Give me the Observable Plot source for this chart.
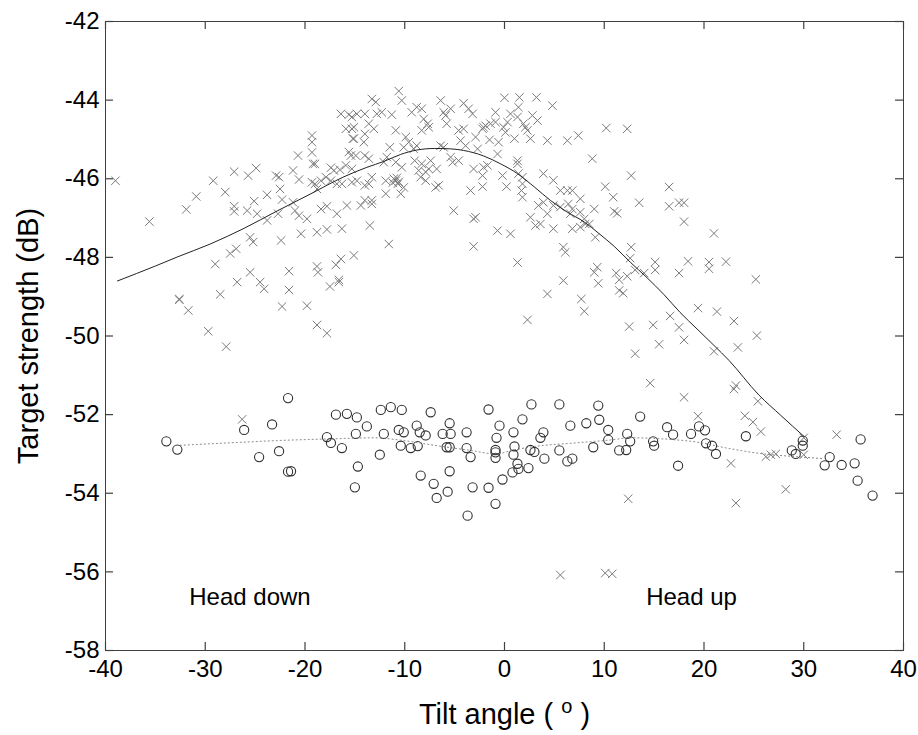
<!DOCTYPE html>
<html>
<head>
<meta charset="utf-8">
<script src="https://cdn.jsdelivr.net/npm/d3@7"></script>
<script src="https://cdn.jsdelivr.net/npm/@observablehq/plot@0.6"></script>
<style>
  html, body { margin: 0; padding: 0; background: #fff; }
  #chart { width: 918px; height: 735px; }
</style>
</head>
<body>
<div id="chart"></div>
<script>
// ---------- data ----------
const xTicks = [-40, -30, -20, -10, 0, 10, 20, 30, 40];
const yTicks = [-58, -56, -54, -52, -50, -48, -46, -44, -42];
const xLabel = "Tilt angle ( o )";
const yLabel = "Target strength (dB)";

// "x" markers: [tilt angle, target strength]
const crossPoints = [
  [-39.0,-46.05],[-35.6,-47.09],[-31.9,-46.78],[-30.9,-46.45],[-29.2,-46.05],[-28.0,-46.34],[-27.1,-45.82],
  [-27.1,-46.70],[-27.1,-46.83],[-25.7,-45.92],[-24.9,-45.73],[-25.8,-46.81],[-25.1,-46.57],[-24.8,-46.89],
  [-23.8,-46.41],[-23.8,-47.06],[-22.9,-45.92],[-22.6,-45.96],[-22.5,-46.26],[-22.7,-46.89],[-22.3,-46.53],
  [-21.2,-45.79],[-20.6,-46.02],[-21.2,-46.60],[-21.0,-46.81],[-20.6,-46.94],[-19.8,-47.02],[-20.7,-45.41],
  [-19.3,-44.90],[-19.3,-45.07],[-19.3,-45.33],[-19.2,-45.62],[-19.0,-45.62],[-19.3,-46.09],[-19.0,-46.13],
  [-18.8,-46.26],[-18.4,-46.05],[-17.9,-45.96],[-17.4,-45.72],[-17.1,-45.79],[-16.5,-45.77],[-17.4,-46.05],
  [-16.8,-46.13],[-16.3,-46.13],[-18.4,-46.77],[-17.8,-46.70],[-16.8,-46.89],[-15.8,-46.68],[-20.4,-47.40],
  [-18.8,-47.36],[-17.8,-47.29],[-16.3,-47.27],[-22.4,-47.57],[-25.5,-47.49],[-25.2,-47.61],[-27.5,-47.90],
  [-26.9,-47.78],[-29.0,-48.17],[-25.5,-48.38],[-26.8,-48.63],[-24.5,-48.63],[-24.1,-48.80],[-21.6,-48.35],
  [-21.6,-48.83],[-22.3,-49.25],[-19.8,-49.23],[-18.8,-48.23],[-18.7,-48.38],[-16.9,-48.19],[-16.4,-48.04],
  [-17.5,-48.74],[-16.6,-48.57],[-16.6,-48.63],[-18.8,-49.72],[-17.8,-49.93],[-32.6,-49.06],[-32.6,-49.08],
  [-31.7,-49.35],[-28.5,-48.94],[-29.7,-49.88],[-27.9,-50.27],[-16.4,-44.35],[-15.6,-44.37],[-15.9,-44.73],
  [-15.3,-44.73],[-15.2,-44.98],[-15.6,-45.32],[-15.9,-45.66],[-15.3,-45.75],[-26.3,-52.12],
  [-10.6,-43.77],[-10.3,-44.01],[-13.3,-43.97],[-12.9,-44.05],[-6.4,-44.01],[-4.1,-44.08],[-3.6,-44.22],
  [-3.2,-44.35],[0.0,-43.94],[1.5,-43.93],[3.2,-43.93],[4.8,-44.14],[1.4,-44.18],[0.6,-44.35],[1.3,-44.43],
  [0.3,-44.56],[2.8,-44.39],[3.3,-44.52],[-14.8,-44.35],[-14.0,-44.35],[-15.3,-44.43],[-12.8,-44.35],
  [-12.3,-44.31],[-11.3,-44.37],[-9.3,-44.31],[-8.8,-44.18],[-8.3,-44.22],[-6.1,-44.31],[-5.9,-44.39],
  [-5.4,-44.22],[-5.8,-44.60],[-8.1,-44.48],[-7.7,-44.60],[-8.3,-44.77],[-7.6,-44.69],[-0.9,-44.31],
  [-1.4,-44.60],[-2.1,-44.69],[-0.9,-44.56],[-0.1,-44.69],[0.1,-44.82],[1.9,-44.60],[2.3,-44.77],
  [2.6,-44.98],[2.1,-44.69],[4.3,-45.03],[6.3,-45.03],[7.4,-44.90],[8.8,-45.49],[-15.1,-44.69],[-15.1,-44.98],
  [-14.0,-44.86],[-13.1,-44.73],[-13.6,-44.60],[-14.1,-45.07],[-10.9,-44.77],[-9.9,-44.94],[-9.6,-45.07],
  [-11.5,-45.20],[-10.1,-45.20],[-9.1,-45.24],[-8.8,-45.16],[-4.6,-44.77],[-4.1,-44.73],[-4.4,-45.03],
  [-3.9,-45.16],[-2.9,-44.94],[-2.2,-44.73],[-1.9,-44.65],[-1.5,-45.01],[-0.6,-45.07],[1.0,-44.98],
  [-6.4,-45.16],[-6.1,-45.20],[-2.7,-45.24],[-0.7,-45.37],[-15.4,-45.41],[-14.9,-45.41],[-14.0,-45.41],
  [-13.6,-45.49],[-12.1,-45.58],[-11.8,-45.45],[-10.9,-45.58],[-10.3,-45.71],[-9.0,-45.54],[-8.3,-45.62],
  [-7.4,-45.54],[-6.8,-45.75],[-8.6,-45.79],[-7.9,-45.83],[-7.6,-45.75],[-5.4,-45.45],[-5.2,-45.58],
  [-4.6,-45.54],[-3.1,-45.75],[-2.1,-45.71],[-1.7,-45.66],[-2.2,-45.92],[1.3,-45.54],[1.3,-45.62],
  [-0.2,-45.92],[1.4,-45.87],[1.8,-45.96],[1.8,-46.13],[1.7,-46.30],[1.8,-46.47],[0.2,-46.20],[3.9,-45.87],
  [4.9,-46.04],[5.6,-46.30],[6.3,-46.30],[6.8,-46.30],[7.6,-46.51],[3.4,-46.68],[3.9,-46.60],[4.9,-46.68],
  [5.6,-46.72],[6.4,-46.64],[6.8,-46.77],[6.6,-46.89],[7.6,-46.85],[8.0,-47.02],[8.5,-47.15],[9.0,-46.77],
  [2.6,-46.98],[3.1,-47.19],[3.6,-47.15],[4.3,-46.89],[4.9,-47.27],[6.8,-47.27],[7.6,-47.23],[8.1,-47.15],
  [9.1,-47.49],[-14.4,-46.68],[-14.0,-46.55],[-13.3,-46.55],[-13.3,-46.64],[-15.3,-46.09],[-14.8,-46.05],
  [-14.0,-46.17],[-13.3,-45.96],[-13.6,-46.13],[-11.9,-46.05],[-11.9,-46.38],[-11.1,-46.00],[-10.9,-46.05],
  [-10.7,-46.13],[-10.1,-46.22],[-10.4,-46.38],[-11.2,-46.10],[-10.8,-45.98],[-10.6,-46.08],[-8.4,-45.96],
  [-7.9,-46.05],[-6.9,-46.22],[-6.6,-46.17],[-3.4,-46.30],[-2.2,-46.20],[-5.1,-46.81],[-3.1,-47.02],
  [-2.9,-46.98],[-3.1,-47.72],[-0.7,-47.32],[0.6,-47.40],[-13.5,-47.19],[-11.6,-47.66],[-15.1,-47.95],
  [1.3,-48.13],[5.9,-47.74],[6.1,-47.87],[5.9,-48.59],[4.3,-48.93],[7.7,-49.06],[8.0,-49.37],[9.0,-48.38],
  [9.3,-48.25],[9.4,-48.66],[2.3,-49.59],
  [10.2,-44.71],[12.3,-44.73],[12.7,-45.92],[10.1,-46.20],[10.9,-46.47],[11.0,-46.83],[11.3,-46.88],
  [13.5,-46.61],[16.5,-46.21],[16.5,-46.70],[17.5,-46.61],[18.0,-46.61],[18.0,-47.09],[21.0,-47.39],
  [12.7,-47.74],[12.6,-48.02],[13.1,-48.32],[14.0,-48.40],[15.1,-48.12],[15.1,-48.32],[11.2,-48.40],
  [11.5,-48.57],[12.3,-48.48],[11.5,-48.84],[11.9,-48.91],[17.5,-48.40],[18.4,-48.10],[20.5,-48.12],
  [20.5,-48.29],[22.2,-48.11],[25.2,-48.56],[19.4,-49.29],[21.3,-49.38],[23.0,-49.62],[16.6,-49.49],
  [14.9,-49.72],[12.5,-49.76],[17.5,-49.78],[18.0,-50.10],[15.5,-50.21],[13.1,-50.45],[21.0,-50.39],
  [23.4,-50.29],[25.3,-49.99],
  [14.6,-51.20],[18.0,-51.56],[23.2,-51.26],[23.0,-51.35],[25.4,-51.66],[19.4,-52.04],[24.1,-52.03],
  [24.9,-52.19],[25.7,-52.43],[30.0,-52.59],[33.3,-52.51],[22.7,-53.24],[26.2,-53.07],[26.7,-53.02],
  [27.2,-53.00],[30.0,-53.02],[28.2,-53.90],[23.2,-54.25],[12.4,-54.14],[5.6,-56.08],[10.1,-56.03],[10.8,-56.05]
];

// "o" markers: [tilt angle, target strength]
const circlePoints = [
  [-33.9,-52.68],[-32.8,-52.89],[-26.1,-52.39],[-23.3,-52.25],[-21.7,-51.58],[-24.6,-53.08],[-22.6,-52.93],
  [-21.7,-53.45],[-21.4,-53.44],[-17.8,-52.57],[-17.4,-52.72],[-16.3,-52.85],[-16.9,-52.00],[-15.8,-51.98],
  [-14.8,-52.07],[-13.8,-52.30],[-14.9,-52.49],[-14.7,-53.32],[-15.0,-53.85],
  [-12.4,-51.88],[-11.4,-51.81],[-10.3,-51.88],[-12.1,-52.49],[-12.5,-53.02],[-10.6,-52.39],[-10.1,-52.45],
  [-10.4,-52.79],[-9.4,-52.85],[-8.7,-52.80],[-8.8,-52.28],[-8.5,-52.45],[-7.9,-52.53],[-7.4,-51.94],
  [-6.2,-52.49],[-5.5,-52.22],[-5.4,-52.49],[-5.8,-52.83],[-5.5,-52.83],[-3.8,-52.45],[-3.8,-52.85],
  [-3.4,-53.08],[-8.4,-53.55],[-7.1,-53.76],[-6.8,-54.12],[-5.7,-53.96],[-5.5,-53.44],[-3.2,-53.85],
  [-1.6,-53.86],[-1.6,-51.87],[-0.5,-52.28],[-0.8,-52.59],[-0.9,-52.90],[-0.9,-52.96],[-0.9,-53.10],
  [0.9,-52.45],[1.0,-52.81],[0.9,-53.02],[1.3,-53.25],[1.4,-53.38],[0.8,-53.47],[-0.2,-53.65],[2.4,-53.36],
  [1.8,-52.12],[2.7,-51.74],[2.6,-52.90],[3.0,-52.95],[3.6,-52.59],[3.9,-52.45],[4.0,-53.12],[5.5,-51.74],
  [6.6,-52.28],[5.5,-52.91],[6.3,-53.19],[6.8,-53.12],[8.2,-52.22],[8.9,-52.83],[9.4,-51.77],[9.5,-52.13],
  [10.4,-52.39],[10.4,-52.64],[11.5,-52.91],[12.2,-52.90],[12.3,-52.49],[12.6,-52.68],[13.6,-52.05],
  [-0.9,-54.27],[-3.7,-54.57],
  [16.3,-52.32],[16.9,-52.51],[18.7,-52.49],[19.5,-52.30],[20.1,-52.40],[20.2,-52.73],[20.8,-52.79],
  [21.2,-53.00],[14.9,-52.68],[15.0,-52.79],[17.4,-53.30],[24.2,-52.55],[28.8,-52.91],[29.2,-53.00],
  [29.9,-52.79],[29.9,-52.66],[32.6,-53.08],[32.1,-53.29],[33.8,-53.28],[35.1,-53.24],[35.7,-52.63],
  [35.4,-53.68],[36.9,-54.06]
];

// solid fit through the "x" data
const fitCross = [
  [-38.8,-48.60],[-35.0,-48.22],[-32.8,-47.99],[-29.5,-47.66],[-26.1,-47.26],[-22.8,-46.82],[-19.4,-46.38],
  [-16.1,-45.95],[-13.8,-45.71],[-12.1,-45.56],[-10.4,-45.38],[-8.8,-45.27],[-7.0,-45.23],[-5.4,-45.24],
  [-4.1,-45.28],[-2.1,-45.42],[-0.4,-45.62],[1.3,-45.87],[3.0,-46.21],[4.6,-46.55],[6.3,-46.85],[8.0,-47.10],
  [9.5,-47.40],[11.0,-47.72],[12.6,-48.12],[14.3,-48.52],[16.0,-48.95],[17.6,-49.40],[19.3,-49.82],
  [21.0,-50.24],[22.5,-50.62],[25.5,-51.50],[27.7,-52.02],[30.0,-52.55]
];

// dotted fit through the "o" data
const fitCircle = [
  [-32.5,-52.78],[-26.1,-52.70],[-22.8,-52.66],[-17.8,-52.62],[-13.1,-52.59],[-10.1,-52.66],[-6.8,-52.79],
  [-3.4,-52.91],[-0.9,-53.00],[0.9,-52.90],[3.3,-52.80],[6.6,-52.73],[10.0,-52.66],[13.0,-52.59],
  [16.0,-52.62],[19.3,-52.70],[22.7,-52.87],[26.0,-53.00],[29.3,-53.07],[32.0,-53.12]
];

// annotations
const noteText = ["Head down", "Head up"];
const noteX = [-31.6, 14.2];
const noteY = [-56.65, -56.65];
const notes = noteText.map((t, i) => ({t, x: noteX[i], y: noteY[i]}));

// ---------- chart ----------
const W = 918, H = 735, mL = 105, mR = 15, mT = 21, mB = 85;
const frameW = W - mL - mR, frameH = H - mT - mB, tickLen = 8;
const font = "'Liberation Sans', Arial, Helvetica, sans-serif";
const axisColor = "#404040";
const fmt = d => String(d);

const chart = Plot.plot({
  width: W,
  height: H,
  marginLeft: mL,
  marginRight: mR,
  marginTop: mT,
  marginBottom: mB,
  style: {fontFamily: font, fontSize: "24px", background: "#fff", color: "#000"},
  x: {domain: [-40, 40]},
  y: {domain: [-58, -42]},
  marks: [
    Plot.frame({stroke: axisColor, strokeWidth: 1}),
    // inward ticks on all four sides
    Plot.tickX(xTicks, {x: d => d, stroke: axisColor, strokeWidth: 1.2, insetTop: frameH - tickLen}),
    Plot.tickX(xTicks, {x: d => d, stroke: axisColor, strokeWidth: 1.2, insetBottom: frameH - tickLen}),
    Plot.tickY(yTicks, {y: d => d, stroke: axisColor, strokeWidth: 1.2, insetRight: frameW - tickLen}),
    Plot.tickY(yTicks, {y: d => d, stroke: axisColor, strokeWidth: 1.2, insetLeft: frameW - tickLen}),
    // tick labels
    Plot.axisX(xTicks, {anchor: "bottom", tickSize: 0, tickPadding: 9, tickFormat: fmt, fontSize: 24, fill: "#000", label: null}),
    Plot.axisY(yTicks, {anchor: "left", tickSize: 0, tickPadding: 6, tickFormat: fmt, fontSize: 24, fill: "#000", label: null}),
    // data
    Plot.dot(crossPoints, {x: d => d[0], y: d => d[1], symbol: "times", r: 3.9, stroke: "#7a7a7a", strokeWidth: 1}),
    Plot.dot(circlePoints, {x: d => d[0], y: d => d[1], symbol: "circle", r: 4.6, stroke: "#303030", strokeWidth: 1.1, fill: "none"}),
    Plot.line(fitCross, {x: d => d[0], y: d => d[1], stroke: "#222", strokeWidth: 1, curve: "monotone-x"}),
    Plot.line(fitCircle, {x: d => d[0], y: d => d[1], stroke: "#777", strokeWidth: 1, strokeDasharray: "1,3", curve: "monotone-x"}),
    // annotations
    Plot.text(notes, {x: "x", y: "y", text: "t", textAnchor: "start", fontSize: 24, fill: "#000"}),
    // axis titles
    Plot.text([xLabel], {frameAnchor: "bottom", dy: 64, fontSize: 29, fill: "#000", textAnchor: "middle", lineAnchor: "middle"}),
    Plot.text([yLabel], {frameAnchor: "left", dx: -77, rotate: -90, fontSize: 29, fill: "#000", textAnchor: "middle", lineAnchor: "middle"})
  ]
});

// render the "o" of the x title as a superscript
d3.select(chart).selectAll("text").filter(function () { return this.textContent === xLabel; }).each(function () {
  const t = d3.select(this);
  const parts = xLabel.split(" o ");
  t.text(null);
  t.append("tspan").text(parts[0] + " ");
  t.append("tspan").attr("font-size", 20).attr("dy", -11).text("o");
  t.append("tspan").attr("dy", 11).text(" " + parts[1]);
});

document.getElementById("chart").appendChild(chart);
</script>
</body>
</html>
